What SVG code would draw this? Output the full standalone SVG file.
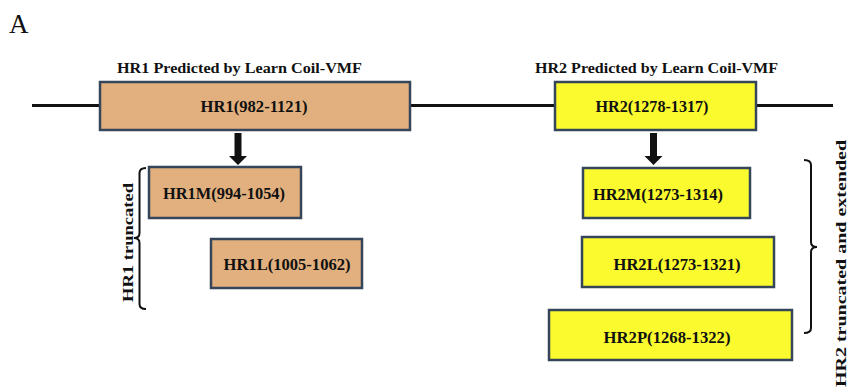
<svg xmlns="http://www.w3.org/2000/svg" width="849" height="389" viewBox="0 0 849 389">
<style>
text{font-family:"Liberation Serif","Times New Roman",serif;fill:#111;}
.lbl{font-weight:bold;font-size:17px;text-anchor:middle;}
.ttl{font-weight:bold;font-size:15.5px;}
.side{font-weight:bold;font-size:15px;}
.b1{fill:#E2B07E;stroke:#35455a;stroke-width:2.5;}
.b2{fill:#FAFA2E;stroke:#35455a;stroke-width:2.5;}
.ln{stroke:#111;stroke-width:3;fill:none;}
.br{stroke:#111;stroke-width:2;fill:none;}
.ar{fill:#111;}
</style>
<rect width="849" height="389" fill="#fff"/>
<text x="9" y="33" style="font-size:27px">A</text>
<g id="connectors">
<line class="ln" x1="32" y1="105.5" x2="100" y2="105.5"/>
<line class="ln" x1="410" y1="105.5" x2="555" y2="105.5"/>
<line class="ln" x1="756" y1="105.5" x2="833" y2="105.5"/>
<path class="ar" d="M234.5 133 H241.5 V156 H247 L238 165 L229 156 H234.5 Z"/>
<path class="ar" d="M650 133 H657 V156 H662.5 L653.5 165 L644.5 156 H650 Z"/>
<path class="br" d="M146 168 Q139.5 168 139.5 173 V233 Q139.5 238 134 238 Q139.5 238 139.5 243 V304 Q139.5 309 146 309"/>
<path class="br" d="M804 160 Q811 160 811 165 V242 Q811 247 817 247 Q811 247 811 252 V328 Q811 333 804 333"/>
</g>
<g id="hr1">
<text class="ttl" x="117" y="73" textLength="245" lengthAdjust="spacingAndGlyphs">HR1 Predicted by Learn Coil-VMF</text>
<rect class="b1" x="100" y="82" width="310" height="48"/>
<text class="lbl" x="254" y="112" textLength="107" lengthAdjust="spacingAndGlyphs">HR1(982-1121)</text>
</g>
<g id="hr2">
<text class="ttl" x="535" y="73" textLength="243" lengthAdjust="spacingAndGlyphs">HR2 Predicted by Learn Coil-VMF</text>
<rect class="b2" x="555" y="82" width="201" height="48"/>
<text class="lbl" x="652" y="112" textLength="113" lengthAdjust="spacingAndGlyphs">HR2(1278-1317)</text>
</g>
<g id="hr1m">
<rect class="b1" x="149" y="167" width="152" height="51"/>
<text class="lbl" x="224" y="199" textLength="122" lengthAdjust="spacingAndGlyphs">HR1M(994-1054)</text>
</g>
<g id="hr1l">
<rect class="b1" x="211" y="239" width="151" height="49"/>
<text class="lbl" x="287" y="270" textLength="127" lengthAdjust="spacingAndGlyphs">HR1L(1005-1062)</text>
</g>
<g id="hr2m">
<rect class="b2" x="583" y="168" width="167" height="50"/>
<text class="lbl" x="658" y="200" textLength="130" lengthAdjust="spacingAndGlyphs">HR2M(1273-1314)</text>
</g>
<g id="hr2l">
<rect class="b2" x="582" y="237" width="192" height="50"/>
<text class="lbl" x="677" y="270" textLength="127" lengthAdjust="spacingAndGlyphs">HR2L(1273-1321)</text>
</g>
<g id="hr2p">
<rect class="b2" x="549" y="310" width="243" height="50"/>
<text class="lbl" x="667" y="343" textLength="127" lengthAdjust="spacingAndGlyphs">HR2P(1268-1322)</text>
</g>
<g id="side-labels">
<text class="side" transform="translate(133,302) rotate(-90)" textLength="119" lengthAdjust="spacingAndGlyphs">HR1 truncated</text>
<text class="side" transform="translate(846,387) rotate(-90)" textLength="247" lengthAdjust="spacingAndGlyphs">HR2 truncated and  extended</text>
</g>
</svg>
